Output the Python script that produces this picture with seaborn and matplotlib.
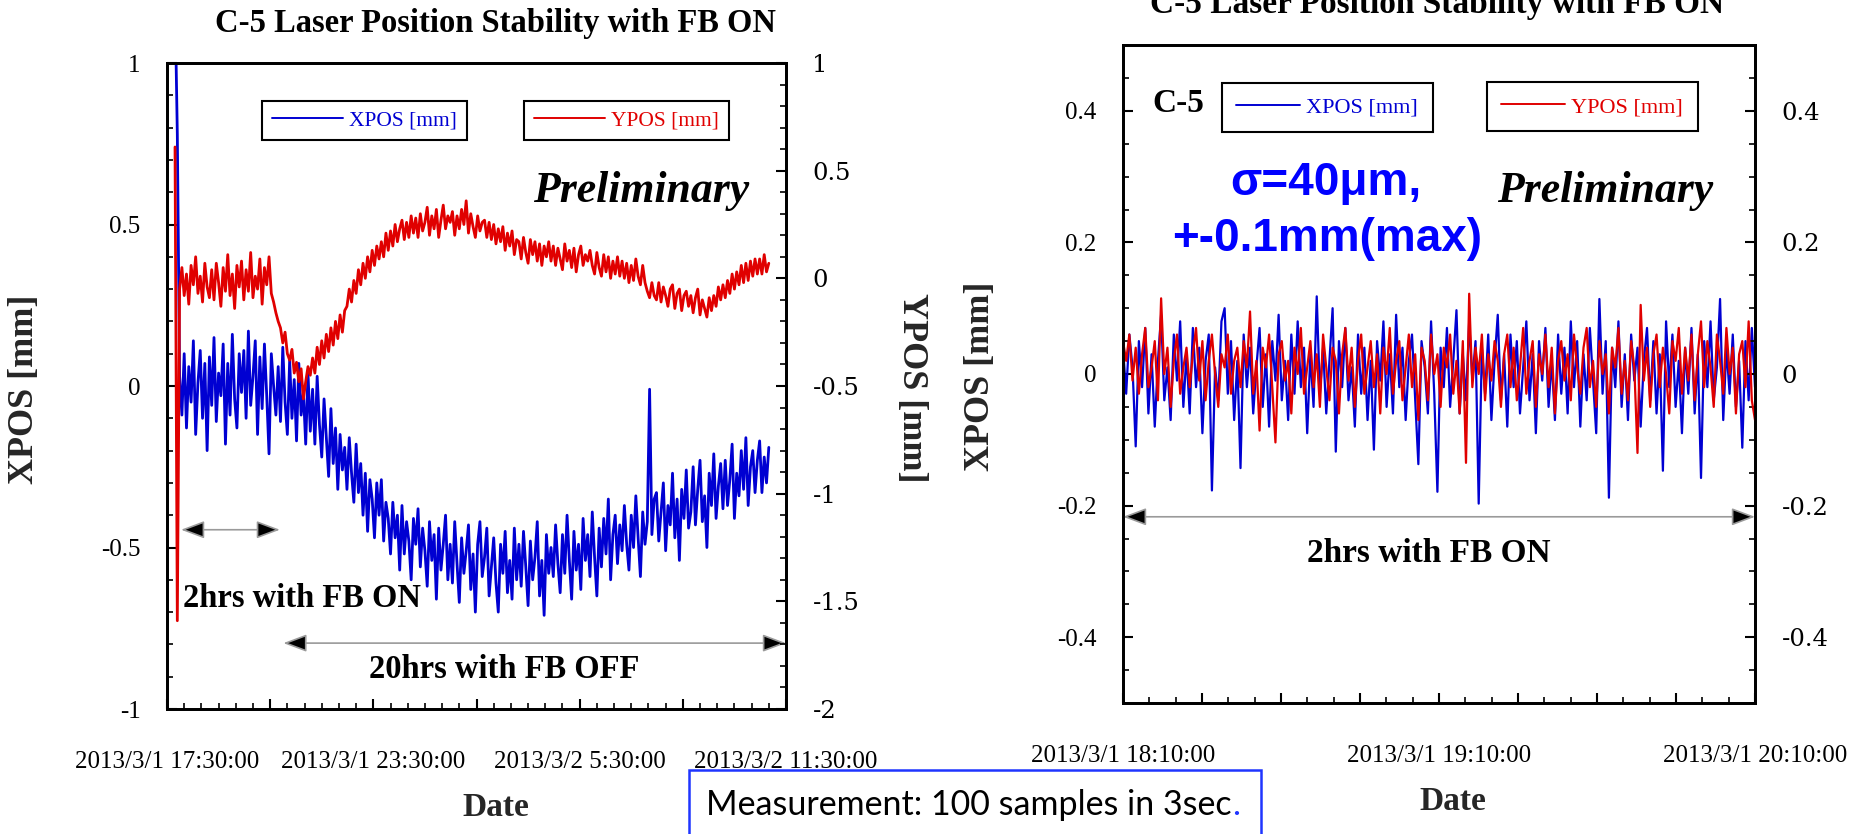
import numpy as np
import pandas as pd
import matplotlib
matplotlib.use("Agg")
import matplotlib.pyplot as plt
import matplotlib.dates as mdates
from matplotlib.ticker import FixedLocator, FixedFormatter, MultipleLocator, FuncFormatter
from matplotlib.patches import Rectangle
import seaborn as sns

# ---------------------------------------------------------------------------
# Long run: FB ON for ~2 h, then FB OFF; one reading every 4 minutes (um)
# ---------------------------------------------------------------------------
RUN_START = "2013-03-01 17:44"
RUN_STEP = "4min"
RUN_XPOS_UM = [
    1200, 780, 30, -90, 100, -130, 60, -50, 140, -150, 10, 110, -100, 70, -200,
    90, -60, 150, -110, 40, -30, 130, -180, 70, -90, 160, -40, -130, 100, -20,
    110, -100, 170, -60, 30, 140, -150, 90, -70, 130, -30, -210, 100, 0, -90,
    60, -110, 120, -50, -150, 80, -100, 20, -170, 70, -90, -20, -180, 40, -140,
    -10, -180, 30, -120, -220, -40, -160, -280, -70, -240, -130, -320, -150, -260, -190,
    -320, -160, -270, -360, -180, -330, -240, -400, -270, -450, -290, -350, -470, -300, -400,
    -290, -480, -360, -410, -520, -360, -470, -400, -570, -370, -520, -420, -480, -600, -410,
    -490, -380, -560, -440, -510, -620, -420, -540, -460, -660, -440, -570, -490, -400, -600,
    -490, -610, -420, -550, -670, -470, -580, -510, -430, -630, -520, -700, -490, -420, -590,
    -530, -440, -650, -560, -470, -610, -700, -490, -580, -450, -640, -540, -660, -440, -600,
    -490, -620, -450, -560, -680, -480, -600, -530, -420, -650, -540, -710, -460, -580, -500,
    -590, -430, -550, -640, -460, -580, -400, -540, -660, -450, -570, -490, -630, -410, -540,
    -460, -590, -390, -530, -650, -440, -560, -410, -520, -350, -600, -460, -400, -550, -430,
    -510, -370, -490, -570, -400, -500, -340, -470, -590, -390, -490, -420, -10, -460, -350,
    -330, -480, -390, -300, -510, -370, -430, -270, -470, -350, -540, -320, -410, -260, -440,
    -390, -250, -430, -320, -230, -420, -340, -500, -270, -370, -210, -410, -310, -240, -380,
    -230, -370, -290, -180, -410, -270, -340, -200, -320, -160, -370, -250, -200, -330, -230,
    -170, -330, -220, -300, -190,
]
RUN_YPOS_UM = [
    610, -1590, -50, 50, -80, 20, -120, 60, -30, 100, -70, 10, -110, 70, -40,
    -90, 40, -100, 70, -20, -130, 50, -60, 110, -80, 20, -140, 60, -40, 80,
    -100, 40, -60, 120, -90, 10, -50, 90, -120, 50, -30, 100, -70, -110, -160,
    -200, -230, -300, -250, -350, -380, -330, -440, -390, -480, -420, -560, -480, -410, -450,
    -370, -440, -320, -400, -290, -370, -260, -340, -230, -310, -200, -280, -170, -250, -150,
    -130, -50, -110, -10, -70, 40, -30, 70, 0, 100, 30, 130, 60, 150, 90,
    170, 100, 210, 130, 220, 150, 250, 170, 230, 270, 180, 260, 190, 290, 210,
    280, 190, 300, 220, 260, 330, 200, 290, 230, 320, 190, 270, 340, 230, 290,
    260, 310, 200, 290, 230, 320, 250, 360, 210, 300, 240, 190, 290, 220, 260,
    270, 190, 260, 180, 250, 160, 230, 170, 240, 130, 210, 150, 220, 110, 180,
    170, 90, 190, 120, 70, 180, 110, 170, 80, 160, 60, 150, 100, 170, 80,
    150, 60, 140, 90, 40, 160, 80, 130, 50, 140, 30, 110, 150, 60, 110,
    80, 130, 60, 20, 120, 50, 10, 110, 30, 100, 0, 80, 20, 100, 10,
    80, 0, 70, -20, 60, -10, 90, 10, -30, 60, -20, -60, -90, -20, -80,
    -100, -20, -110, -40, -80, -130, -50, -30, -140, -70, -50, -150, -80, -60, -130,
    -80, -160, -90, -50, -170, -100, -140, -180, -90, -150, -80, -130, -40, -100, -30,
    -90, -10, -70, 20, -50, 30, -30, 60, -20, 70, -10, 80, 10, 90, 20,
    90, 20, 110, 30, 70,
]
RUN_XLIM = ("2013-03-01 17:30", "2013-03-02 11:30")
RUN_XTICK_LABELS = ["2013/3/1 17:30:00", "", "2013/3/1 23:30:00", "",
                    "2013/3/2 5:30:00", "", "2013/3/2 11:30:00"]

# ---------------------------------------------------------------------------
# Two hours with FB ON, 18:10 - 20:10 (um)
# ---------------------------------------------------------------------------
FB_START = "2013-03-01 18:10"
FB_END = "2013-03-01 20:10"
FB_XPOS_UM = [
    40, -30, 60, 10, -110, 50, -20, 70, -60, 30, -80, 20, 90, -40, 10, -70, 60, -10, 80, -50,
    30, -60, 70, -20, 40, -90, 20, 60, -177, 10, -40, 80, 100, -30, 50, -70, 20, -143, 60, -20,
    40, -60, 10, 70, -50, 30, -80, 50, -10, 90, -40, 20, -70, 60, -30, 80, -20, 40, -90, 30,
    -50, 118, -30, 40, -60, 20, 100, -118, 50, -20, 70, -40, 10, -80, 60, -30, 40, -70, 20, -115,
    50, -10, 80, -50, 30, -60, 90, -20, 40, -70, 20, 60, -40, -137, 50, 10, -60, 80, -30, -179,
    40, -20, 70, -50, 20, 97, -60, 30, -40, 80, -10, 50, -197, 40, -30, 60, -70, 20, 90, -40,
    30, -80, 60, -20, 50, -60, 10, 80, -40, 30, -90, 50, -10, 70, -50, 20, -70, 60, -30, 40,
    -60, 80, -20, 50, -80, 30, -40, 70, -10, -90, 114, -30, 50, -188, 40, -20, 80, -50, 30, -70,
    60, -10, 40, -80, 20, 70, -40, 50, -60, 30, -147, 80, -20, 60, -50, 20, -90, 40, -30, 70,
    -60, 30, -158, 50, -20, 80, -40, 10, 114, -70, 40, -30, 60, -50, 20, -112, 50, -40, 70, -20,
]
FB_YPOS_UM = [
    50, 20, 60, -10, 40, -30, 30, 70, -20, 10, 50, -40, 115, 0, 40, -50, 20, 60, -30, 10,
    40, -20, 30, 70, -10, 50, -40, 20, 60, 0, -50, 30, 10, 60, -30, 20, 40, -20, 50, 10,
    95, -30, 20, -86, 40, 10, 60, -20, -104, 30, 50, -10, 20, -60, 40, 0, 70, -30, 10, 50,
    -20, 30, -50, 60, 10, -40, 40, 20, -60, 30, 70, -10, 40, -50, 20, 60, -30, 10, 50, -20,
    30, -60, 40, 0, 70, -30, 20, 50, -40, 10, 60, -20, 30, -70, 40, 20, -40, 60, 0, 30,
    -50, 40, 10, 60, -30, 20, -60, 50, -135, 122, -20, 40, 0, 60, -40, 30, -10, 50, 20, -50,
    30, 60, -20, 40, -40, 10, 70, -30, 20, 50, -50, 30, 0, 60, -20, 40, -60, 20, 50, -10,
    30, -40, 60, 10, -30, 40, 70, -20, 20, -50, 50, 0, 30, -60, 40, 10, 70, -30, 20, -40,
    50, 10, -120, 105, -10, 40, -50, 30, 60, -20, 40, 0, -60, 50, 20, 70, -30, 40, -10, 60,
    -40, 30, 80, -20, 50, 10, -50, 60, 20, -30, 70, 0, 40, -60, 30, 50, -20, 80, -40, -70,
]
FB_XTICK_LABELS = ["2013/3/1 18:10:00", "", "", "", "2013/3/1 19:10:00",
                   "", "", "", "2013/3/1 20:10:00"]

TITLE = "C-5 Laser Position Stability with FB ON"

# ---------------------------------------------------------------------------
sns.set_theme(style="ticks")
plt.rcParams["font.family"] = ["Liberation Serif", "DejaVu Serif"]
plt.rcParams.update({
    "axes.edgecolor": "black",
    "axes.linewidth": 2.0,
    "axes.facecolor": "white",
    "figure.facecolor": "white",
    "xtick.color": "black",
    "ytick.color": "black",
    "text.color": "black",
})

BLUE = "#0000d2"
RED = "#e00000"
NOTE_BLUE = "#1f35ff"
W, H = 1868, 834

fig = plt.figure(figsize=(W / 100, H / 100), dpi=100)


def add_axes_px(x0, y0, x1, y1):
    return fig.add_axes([x0 / W, 1 - y1 / H, (x1 - x0) / W, (y1 - y0) / H])


def tnum(stamp):
    return mdates.date2num(pd.Timestamp(stamp).to_pydatetime())


def plain(v, _pos=None):
    return f"{round(v, 3) + 0:g}"


def style_panel(ax, axr, t0, t1, tmajor, tminor, tlabels, ylim_l, ylim_r,
                ymaj_l, ymin_l, ymaj_r, ymin_r):
    ax.set_xlim(tnum(t0), tnum(t1))
    majors = [tnum(t) for t in pd.date_range(t0, t1, freq=tmajor)]
    minors = [tnum(t) for t in pd.date_range(t0, t1, freq=tminor)]
    ax.xaxis.set_major_locator(FixedLocator(majors))
    ax.xaxis.set_minor_locator(FixedLocator(minors))
    ax.xaxis.set_major_formatter(FixedFormatter(tlabels))
    ax.set_ylim(*ylim_l)
    axr.set_ylim(*ylim_r)
    for a, maj, mnr in ((ax, ymaj_l, ymin_l), (axr, ymaj_r, ymin_r)):
        a.yaxis.set_major_locator(MultipleLocator(maj))
        a.yaxis.set_minor_locator(MultipleLocator(mnr))
        a.yaxis.set_major_formatter(FuncFormatter(plain))
        a.grid(False)
        for sp in a.spines.values():
            sp.set_visible(True)
            sp.set_linewidth(2.0)
            sp.set_color("black")
    ax.tick_params(axis="x", which="both", bottom=True, top=False, direction="in")
    ax.tick_params(axis="x", which="major", length=7.5, width=1.5, labelsize=18, pad=30)
    ax.tick_params(axis="x", which="minor", length=4.5, width=1.2)
    ax.tick_params(axis="y", which="both", left=True, right=False, direction="in")
    ax.tick_params(axis="y", which="major", length=7.5, width=1.5, labelsize=18, pad=19)
    ax.tick_params(axis="y", which="minor", length=4.5, width=1.2)
    axr.tick_params(axis="y", which="both", right=True, left=False, direction="in")
    axr.tick_params(axis="y", which="major", length=7.5, width=1.5, labelsize=17.5,
                    pad=19, labelfontfamily="DejaVu Serif")
    axr.tick_params(axis="y", which="minor", length=4.5, width=1.2)


def framed_key(ax, line, label, color, left, top, size, borderpad, handlelength):
    leg = ax.legend([line], [label], loc="upper left",
                    bbox_to_anchor=(left / W, 1 - top / H), bbox_transform=fig.transFigure,
                    frameon=True, fancybox=False, framealpha=1, edgecolor="black",
                    borderaxespad=0, borderpad=borderpad, handlelength=handlelength,
                    handletextpad=0.3, labelcolor=color,
                    prop={"family": "Liberation Serif", "size": size})
    leg.get_frame().set_linewidth(1.5)
    for h in leg.get_lines():
        h.set_linewidth(1.4)
    return leg


def span_arrow(ax, t0, t1, y, scale=20):
    ax.annotate("", xy=(tnum(t1), y), xytext=(tnum(t0), y),
                arrowprops=dict(arrowstyle="<|-|>,head_length=0.72,head_width=0.27",
                                mutation_scale=scale, facecolor="black",
                                edgecolor="#9a9a9a", linewidth=1.2,
                                shrinkA=0, shrinkB=0),
                annotation_clip=False)


# ---------------------------- long run panel ---------------------------------
run = pd.DataFrame({
    "time": pd.date_range(RUN_START, periods=len(RUN_XPOS_UM), freq=RUN_STEP),
    "XPOS": np.asarray(RUN_XPOS_UM) / 1000.0,
    "YPOS": np.asarray(RUN_YPOS_UM) / 1000.0,
})

ax_run = add_axes_px(167, 63, 786, 709)
sns.lineplot(data=run, x="time", y="XPOS", ax=ax_run, color=BLUE, linewidth=2.0,
             estimator=None, sort=False)
ax_run_y = ax_run.twinx()
sns.lineplot(data=run, x="time", y="YPOS", ax=ax_run_y, color=RED, linewidth=2.0,
             estimator=None, sort=False)

style_panel(ax_run, ax_run_y, RUN_XLIM[0], RUN_XLIM[1], "3h", "30min", RUN_XTICK_LABELS,
            (-1, 1), (-2, 1), 0.5, 0.1, 0.5, 0.1)

ax_run.set_xlabel("Date", fontsize=24, fontweight="bold")
ax_run.xaxis.set_label_coords(0.531, -0.166)
ax_run.xaxis.label.set_va("baseline")
ax_run.set_ylabel("XPOS [mm]", fontsize=26, fontweight="bold")
ax_run.yaxis.set_label_coords(-0.231, 0.495)
ax_run.yaxis.label.set_va("center")
ax_run_y.set_ylabel("YPOS [mm]", fontsize=26, fontweight="bold", rotation=270)
ax_run_y.yaxis.set_label_coords(1.202, 0.498)
ax_run_y.yaxis.label.set_va("center")

framed_key(ax_run, ax_run.lines[0], "XPOS [mm]", BLUE, 262, 101, 15.5, 0.45, 3.3)
framed_key(ax_run_y, ax_run_y.lines[0], "YPOS [mm]", RED, 524, 101, 15.5, 0.45, 3.3)

ax_run.text(tnum("2013-03-02 10:25"), 0.57, "Preliminary", ha="right", va="baseline",
            fontsize=31.5, fontweight="bold", fontstyle="italic")
span_arrow(ax_run, "2013-03-01 17:54:30", "2013-03-01 20:47", -0.445)
ax_run.text(tnum("2013-03-01 17:58"), -0.684, "2hrs with FB ON", ha="left",
            va="baseline", fontsize=23.5, fontweight="bold")
span_arrow(ax_run, "2013-03-01 20:53", RUN_XLIM[1], -0.796)
ax_run.text(tnum("2013-03-02 03:18"), -0.904, "20hrs with FB OFF", ha="center",
            va="baseline", fontsize=23.5, fontweight="bold")

# ---------------------------- FB ON panel ------------------------------------
fb = pd.DataFrame({
    "time": pd.date_range(FB_START, FB_END, periods=len(FB_XPOS_UM)),
    "XPOS": np.asarray(FB_XPOS_UM) / 1000.0,
    "YPOS": np.asarray(FB_YPOS_UM) / 1000.0,
})

ax_fb = add_axes_px(1123, 45, 1755, 703)
sns.lineplot(data=fb, x="time", y="XPOS", ax=ax_fb, color=BLUE, linewidth=1.6,
             estimator=None, sort=False)
ax_fb_y = ax_fb.twinx()
sns.lineplot(data=fb, x="time", y="YPOS", ax=ax_fb_y, color=RED, linewidth=1.6,
             estimator=None, sort=False)

style_panel(ax_fb, ax_fb_y, FB_START, FB_END, "15min", "5min", FB_XTICK_LABELS,
            (-0.5, 0.5), (-0.5, 0.5), 0.2, 0.05, 0.2, 0.05)

ax_fb.set_xlabel("Date", fontsize=24, fontweight="bold")
ax_fb.xaxis.set_label_coords(0.522, -0.163)
ax_fb.xaxis.label.set_va("baseline")
ax_fb.set_ylabel("XPOS [mm]", fontsize=26, fontweight="bold")
ax_fb.yaxis.set_label_coords(-0.225, 0.497)
ax_fb.yaxis.label.set_va("center")
ax_fb_y.set_ylabel("YPOS [mm]", fontsize=26, fontweight="bold", rotation=270)
ax_fb_y.yaxis.set_label_coords(1.198, 0.5)
ax_fb_y.yaxis.label.set_va("center")

framed_key(ax_fb, ax_fb.lines[0], "XPOS [mm]", BLUE, 1222, 83, 16, 0.65, 2.85)
framed_key(ax_fb_y, ax_fb_y.lines[0], "YPOS [mm]", RED, 1487, 82, 16, 0.65, 2.85)

ax_fb.text(tnum("2013-03-01 18:15:30"), 0.398, "C-5", ha="left", va="baseline",
           fontsize=24, fontweight="bold")
ax_fb.text(tnum("2013-03-01 18:48:30"), 0.272, "σ=40μm,", ha="center", va="baseline",
           fontsize=33, fontweight="bold", family=["Liberation Sans", "DejaVu Sans"],
           color="#0000ff")
ax_fb.text(tnum("2013-03-01 18:48:50"), 0.187, "+-0.1mm(max)", ha="center",
           va="baseline", fontsize=33, fontweight="bold",
           family=["Liberation Sans", "DejaVu Sans"], color="#0000ff")
ax_fb.text(tnum("2013-03-01 20:02"), 0.261, "Preliminary", ha="right", va="baseline",
           fontsize=31.5, fontweight="bold", fontstyle="italic")
span_arrow(ax_fb, FB_START, FB_END, -0.217)
ax_fb.text(tnum("2013-03-01 19:08"), -0.286, "2hrs with FB ON", ha="center",
           va="baseline", fontsize=24, fontweight="bold")

# ---------------------------- figure-level text ------------------------------
fig.text(495 / W, 1 - 32 / H, TITLE, ha="center", va="baseline",
         fontsize=23.5, fontweight="bold")
fig.text(1437 / W, 1 - 13 / H, TITLE, ha="center", va="baseline",
         fontsize=24, fontweight="bold")

fig.add_artist(Rectangle((689 / W, -0.05), (1261 - 689) / W, 0.05 + (1 - 770 / H),
                         transform=fig.transFigure, fill=False, edgecolor=NOTE_BLUE,
                         linewidth=1.8, clip_on=False))
note = fig.text(706 / W, 1 - 815 / H, "Measurement: 100 samples in 3sec",
                ha="left", va="baseline", fontsize=24.5,
                family=["Lato", "DejaVu Sans"], color="black")
ax_run.annotate(".", xy=(1, 0), xycoords=note, ha="left", va="bottom",
                fontsize=24.5, family=["Lato", "DejaVu Sans"], color=NOTE_BLUE,
                annotation_clip=False)

fig.savefig("out.png", dpi=100)
